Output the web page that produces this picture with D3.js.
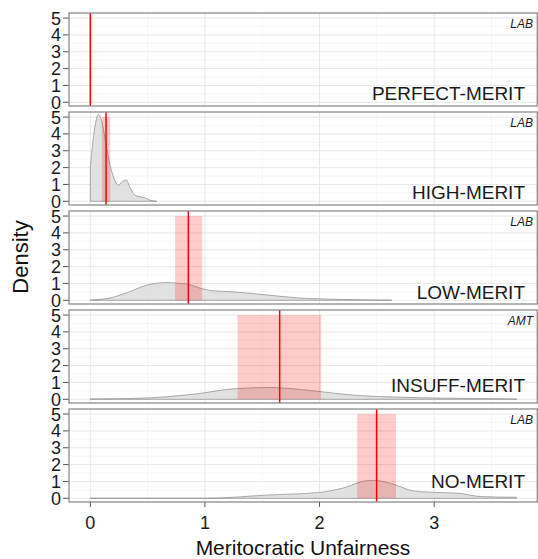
<!DOCTYPE html>
<html>
<head>
<meta charset="utf-8">
<script src="https://cdn.jsdelivr.net/npm/d3@7"></script>
<style>
  body { margin: 0; background: #fff; }
  text { font-family: "Liberation Sans", Arial, Helvetica, sans-serif; }
</style>
</head>
<body>
<div id="chart-area"></div>
<script>
// conditions, top to bottom
const conditions = ["PERFECT-MERIT", "HIGH-MERIT", "LOW-MERIT", "INSUFF-MERIT", "NO-MERIT"];
const sources = ["LAB", "LAB", "LAB", "AMT", "LAB"];

// observed mean (red line) and interval (pink band)
const means = [0, 0.137, 0.855, 1.652, 2.498];
const ciLow = [null, 0.10, 0.74, 1.284, 2.328];
const ciHigh = [null, 0.174, 0.976, 2.014, 2.667];
const bandTop = 5;

// density curves: [x, density]
const densPerfect = [];
const densHigh = [[0, 2.0], [0.029, 3.9], [0.072, 5.15], [0.101, 4.7], [0.139, 3.3], [0.174, 2.1],
  [0.217, 1.2], [0.246, 0.95], [0.275, 1.15], [0.313, 1.27], [0.348, 0.8], [0.391, 0.35],
  [0.435, 0.27], [0.478, 0.2], [0.522, 0.06], [0.58, 0]];
const densLow = [[0, 0.02], [0.145, 0.1], [0.319, 0.45], [0.493, 0.9], [0.667, 1.05], [0.783, 1.0],
  [0.855, 0.95], [0.957, 0.72], [1.072, 0.56], [1.246, 0.5], [1.42, 0.4], [1.565, 0.3],
  [1.8, 0.15], [2.2, 0.05], [2.63, 0.01]];
const densInsuff = [[0, 0.02], [0.377, 0.05], [0.667, 0.15], [0.957, 0.35], [1.246, 0.62], [1.565, 0.7],
  [1.652, 0.68], [2.014, 0.45], [2.29, 0.25], [2.72, 0.12], [3.3, 0.05], [3.72, 0.02]];
const densNo = [[0, 0], [1.0, 0.0], [1.565, 0.2], [2.0, 0.35], [2.2, 0.6], [2.43, 1.05], [2.49, 1.05],
  [2.66, 0.8], [2.81, 0.45], [3.01, 0.35], [3.21, 0.3], [3.41, 0.1], [3.72, 0.06]];
const densities = [densPerfect, densHigh, densLow, densInsuff, densNo];

// label height inside each panel (data units)
const labelLift = [0.16, 0.12, 0.1, 0.42, 0.6];

const xTicks = [0, 1, 2, 3];
const xMinor = [0.5, 1.5, 2.5, 3.5];
const yTicks = [0, 1, 2, 3, 4, 5];
const yMinor = [0.5, 1.5, 2.5, 3.5, 4.5];

const width = 538, height = 559;
const left = 69, right = 538;
const panelTop = 13, panelH = 93, panelStep = 99;

const svg = d3.select("#chart-area").append("svg")
    .attr("width", width)
    .attr("height", height)

const x = d3.scaleLinear().domain([-0.186, 3.906]).range([left, right]);

conditions.forEach((name, i) => {
    const top = panelTop + i * panelStep;
    const y = d3.scaleLinear().domain([-0.22, 5.3]).range([top + panelH, top]);
    const g = svg.append("g");

    // grid
    g.selectAll(".vmin").data(xMinor).enter().append("line")
        .attr("x1", d => x(d)).attr("x2", d => x(d))
        .attr("y1", top).attr("y2", top + panelH)
        .attr("stroke", "#f4f4f4").attr("stroke-width", 0.8)
    g.selectAll(".hmin").data(yMinor).enter().append("line")
        .attr("x1", left).attr("x2", right)
        .attr("y1", d => y(d)).attr("y2", d => y(d))
        .attr("stroke", "#f4f4f4").attr("stroke-width", 0.8)
    g.selectAll(".vmaj").data(xTicks).enter().append("line")
        .attr("x1", d => x(d)).attr("x2", d => x(d))
        .attr("y1", top).attr("y2", top + panelH)
        .attr("stroke", "#e8e8e8").attr("stroke-width", 1)
    g.selectAll(".hmaj").data(yTicks).enter().append("line")
        .attr("x1", left).attr("x2", right)
        .attr("y1", d => y(d)).attr("y2", d => y(d))
        .attr("stroke", "#e8e8e8").attr("stroke-width", 1)

    // density
    const dens = densities[i];
    if (dens.length) {
        const area = d3.area()
            .x(d => x(d[0]))
            .y0(y(0))
            .y1(d => y(d[1]))
            .curve(d3.curveMonotoneX);
        g.append("path")
            .attr("d", area(dens))
            .attr("fill", "#dcdcdc")
            .attr("fill-opacity", 0.85)
            .attr("stroke", "#8a8a8a")
            .attr("stroke-width", 0.7)
    }

    // interval band
    if (ciLow[i] !== null) {
        g.append("rect")
            .attr("x", x(ciLow[i]))
            .attr("width", x(ciHigh[i]) - x(ciLow[i]))
            .attr("y", y(bandTop))
            .attr("height", y(0) - y(bandTop))
            .attr("fill", "red")
            .attr("fill-opacity", 0.2)
    }

    // mean line
    g.append("line")
        .attr("x1", x(means[i])).attr("x2", x(means[i]))
        .attr("y1", top).attr("y2", top + panelH)
        .attr("stroke", "red").attr("stroke-width", 1.5)

    // labels
    g.append("text")
        .attr("x", 533).attr("y", top + 14.5)
        .attr("text-anchor", "end")
        .attr("font-size", 12).attr("font-style", "italic")
        .attr("fill", "#1a1a1a")
        .text(sources[i])
    g.append("text")
        .attr("x", 525).attr("y", y(labelLift[i]))
        .attr("text-anchor", "end")
        .attr("font-size", 19)
        .attr("fill", "#1a1a1a")
        .text(name)

    // y axis
    g.selectAll(".yt").data(yTicks).enter().append("line")
        .attr("x1", 63).attr("x2", left)
        .attr("y1", d => y(d)).attr("y2", d => y(d))
        .attr("stroke", "#555").attr("stroke-width", 1)
    g.selectAll(".yl").data(yTicks).enter().append("text")
        .attr("x", 61).attr("y", d => y(d))
        .attr("dy", "0.36em")
        .attr("text-anchor", "end")
        .attr("font-size", 18)
        .attr("fill", "#1a1a1a")
        .text(d => d)

    // panel border
    g.append("rect")
        .attr("x", left).attr("y", top)
        .attr("width", right - left - 0.7).attr("height", panelH)
        .attr("fill", "none")
        .attr("stroke", "#8c8c8c").attr("stroke-width", 1.3)
})

// x axis
const axisY = panelTop + 4 * panelStep + panelH;
svg.selectAll(".xt").data(xTicks).enter().append("line")
    .attr("x1", d => x(d)).attr("x2", d => x(d))
    .attr("y1", axisY).attr("y2", axisY + 5)
    .attr("stroke", "#555").attr("stroke-width", 1)
svg.selectAll(".xl").data(xTicks).enter().append("text")
    .attr("x", d => x(d)).attr("y", axisY + 27)
    .attr("text-anchor", "middle")
    .attr("font-size", 18)
    .attr("fill", "#1a1a1a")
    .text(d => d)

svg.append("text")
    .attr("x", (left + right) / 2 - 0.5).attr("y", 555)
    .attr("text-anchor", "middle")
    .attr("font-size", 21)
    .attr("fill", "#111")
    .text("Meritocratic Unfairness")

svg.append("text")
    .attr("transform", "translate(28," + 257 + ") rotate(-90)")
    .attr("text-anchor", "middle")
    .attr("font-size", 22)
    .attr("fill", "#111")
    .text("Density")
</script>
</body>
</html>
